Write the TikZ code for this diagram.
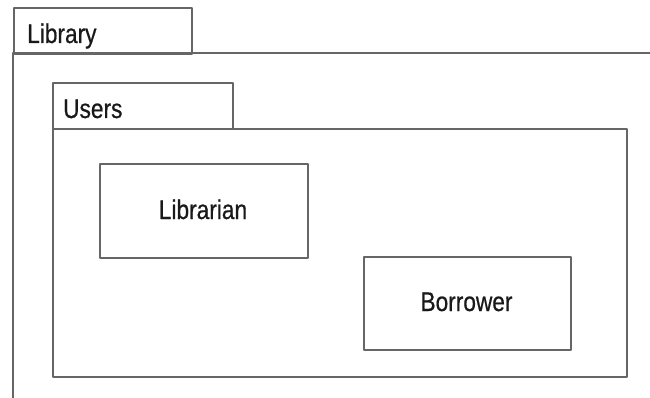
\documentclass[tikz,border=0pt]{standalone}
\usepackage{fontspec}
\setmainfont{Liberation Sans}[FakeStretch=0.84, FakeBold=0.6]
\begin{document}
\begin{tikzpicture}[x=1pt,y=-1pt,
  frame/.style={draw=black!60, line width=2pt, line join=round},
  lbl/.style={font=\fontsize{27}{27}\selectfont, text=black!90, inner sep=0pt}]
  \useasboundingbox (0,0) rectangle (650,398);
  \clip (0,0) rectangle (650,398);
  % Library package: tab and body (body runs past the page edge)
  \draw[frame] (13,53) rectangle (672,420);
  \node[frame, minimum width=178pt, minimum height=46pt, inner sep=0pt, anchor=north west] (libtab) at (13,7) {};
  \node[lbl, anchor=base west] (libtxt) at (27,43) {Library};
  % Users package
  \node[frame, minimum width=180pt, minimum height=46pt, inner sep=0pt, anchor=north west] (usertab) at (52,82) {};
  \node[lbl, anchor=base west] (usertxt) at (63,118) {Users};
  \node[frame, minimum width=574pt, minimum height=248pt, inner sep=0pt, anchor=north west] (userframe) at (52,128) {};
  % Actors
  \node[frame, minimum width=208pt, minimum height=94pt, inner sep=0pt, anchor=north west] (librarian) at (99,163) {};
  \node[lbl, anchor=base] (librariantxt) at (203,219) {Librarian};
  \node[frame, minimum width=207pt, minimum height=93pt, inner sep=0pt, anchor=north west] (borrower) at (363,256) {};
  \node[lbl, anchor=base] (borrowertxt) at (466.5,311) {Borrower};
\end{tikzpicture}
\end{document}
